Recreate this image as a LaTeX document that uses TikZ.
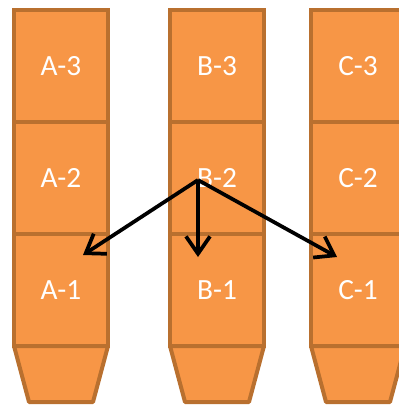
\documentclass[tikz,border=0pt]{standalone}
\usepackage{fontspec}
\setmainfont{Carlito}
\usetikzlibrary{arrows.meta,positioning,calc}
\definecolor{cellFill}{HTML}{F79646}
\definecolor{cellLine}{HTML}{B9702F}
\tikzstyle{cell}=[draw=cellLine, fill=cellFill, line width=3pt, minimum width=70.5pt, minimum height=84pt, inner sep=0pt, outer sep=0pt, text=white, font=\fontsize{22}{26}\selectfont]
\tikzstyle{base}=[draw=cellLine, fill=cellFill, line width=3pt, line join=round]
\tikzstyle{move}=[line width=2.8pt, -{Straight Barb[length=13pt,width=18pt]}]

\begin{document}
\begin{tikzpicture}[x=0.75pt,y=-0.75pt]
    \clip (0,0) rectangle (399,408);

    % === COLUMNS ===
    \foreach \col/\x in {A/61, B/217, C/358} {
        \foreach \row/\y in {3/66, 2/178, 1/290}
            \node[cell] (\col\row) at (\x,\y) {\col-\row};
        % tapered foot
        \draw[base] (\col1.south west) -- ($(\col1.south west)+(15,56)$)
            -- ($(\col1.south east)+(-15,56)$) -- (\col1.south east) -- cycle;
    }

    % === MOVES ===
    \coordinate (B2-src) at ($(B2.center)+(-19,2)$);
    \coordinate (A1-dst) at ($(A1.center)+(22,-35)$);
    \coordinate (B1-dst) at ($(B1.center)+(-19,-33)$);
    \coordinate (C1-dst) at ($(C1.center)+(-21,-33)$);

    \draw[move] (B2-src) -- (A1-dst);
    \draw[move] (B2-src) -- (B1-dst);
    \draw[move] (B2-src) -- (C1-dst);

\end{tikzpicture}
\end{document}
